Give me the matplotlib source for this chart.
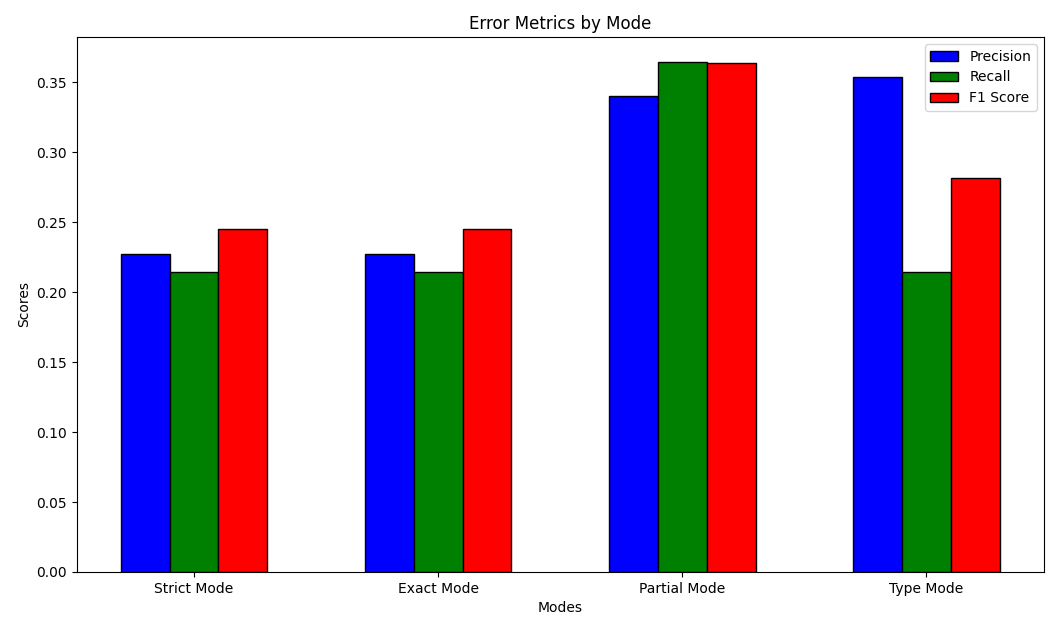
import numpy as np
import matplotlib
matplotlib.use("Agg")
import matplotlib.pyplot as plt

modes = ['Strict Mode', 'Exact Mode', 'Partial Mode', 'Type Mode']
precision = [0.2273, 0.2273, 0.3402, 0.3539]
recall = [0.2143, 0.2143, 0.3643, 0.2143]
f1_score = [0.2451, 0.2451, 0.3636, 0.2819]

x = np.arange(len(modes))
width = 0.2

fig, ax = plt.subplots(figsize=(10.51, 6.17), dpi=100)
ax.bar(x - width, precision, width, label='Precision', color='blue', edgecolor='black')
ax.bar(x, recall, width, label='Recall', color='green', edgecolor='black')
ax.bar(x + width, f1_score, width, label='F1 Score', color='red', edgecolor='black')

ax.set_xlabel('Modes')
ax.set_ylabel('Scores')
ax.set_title('Error Metrics by Mode')
ax.set_xticks(x)
ax.set_xticklabels(modes)
ax.legend()

plt.subplots_adjust(left=0.073, right=0.993, top=0.94, bottom=0.073)
plt.savefig('out.png')
